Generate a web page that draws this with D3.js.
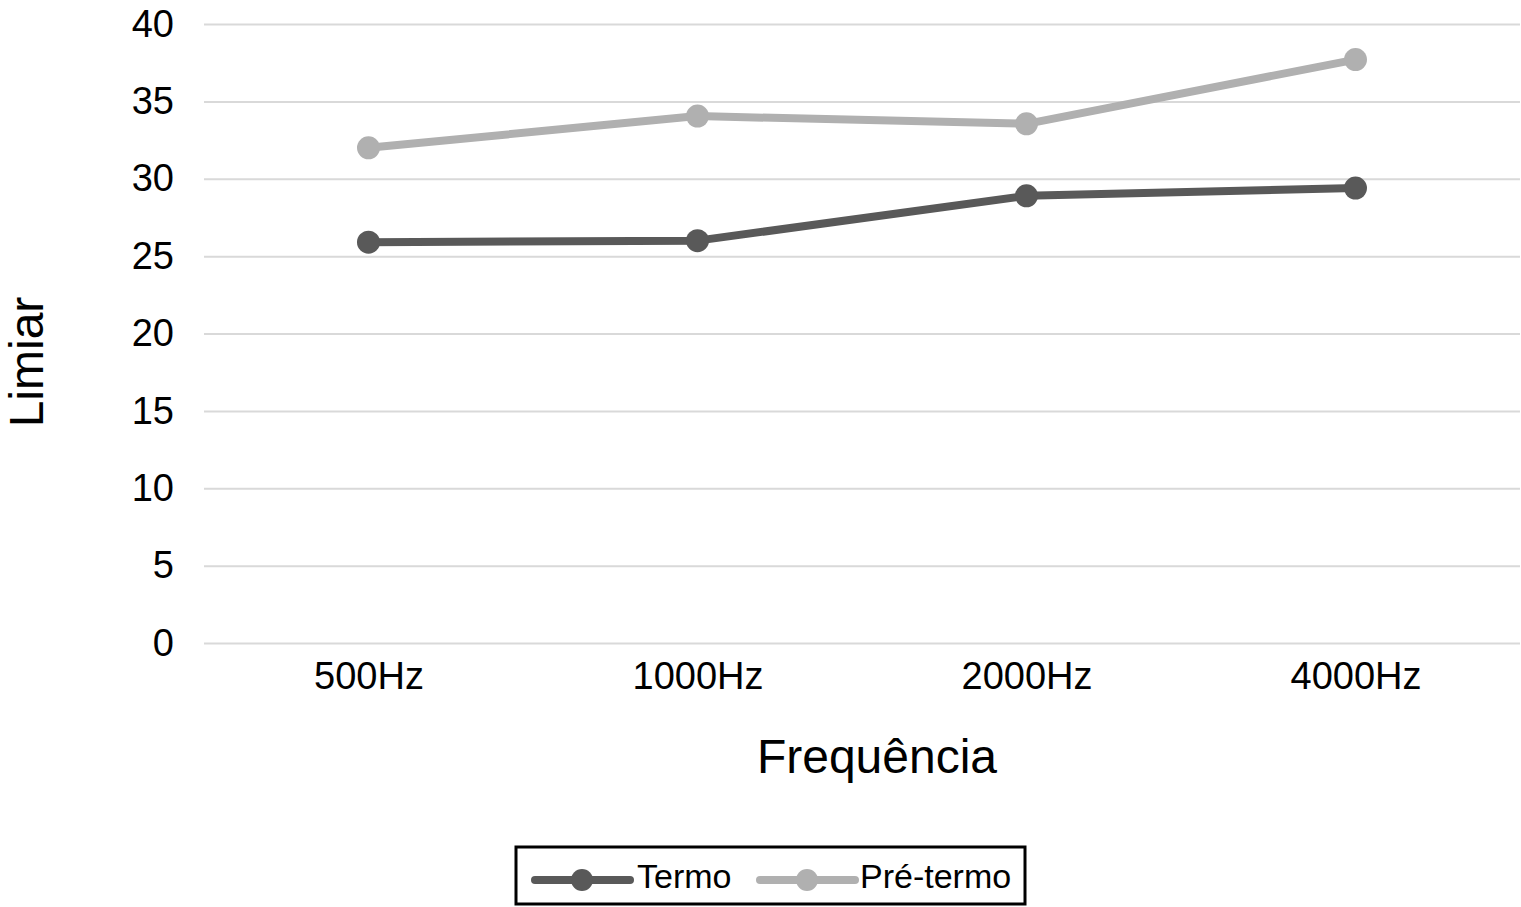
<!DOCTYPE html>
<html>
<head>
<meta charset="utf-8">
<script src="https://cdn.jsdelivr.net/npm/d3@7"></script>
<style>
  html, body { margin: 0; padding: 0; background: #fff; }
  svg { display: block; font-family: "Liberation Sans", Arial, Helvetica, sans-serif; }
</style>
</head>
<body>
<svg id="chart" width="1521" height="907"></svg>
<script>
// ---- data ----
const categories = ["500Hz", "1000Hz", "2000Hz", "4000Hz"];
const termo = [25.9, 26.0, 28.9, 29.4];
const preTermo = [32.0, 34.05, 33.55, 37.7];
const seriesNames = ["Termo", "Pré-termo"];
const yTicks = [0, 5, 10, 15, 20, 25, 30, 35, 40];
const xTitle = "Frequência";
const yTitle = "Limiar";

// ---- layout ----
const svg = d3.select("#chart");
const plotLeft = 204, plotRight = 1520, plotTop = 24, plotBottom = 643;
const colors = ["#595959", "#b0b0b0"];

const x = d3.scalePoint().domain(categories).range([plotLeft, plotRight]).padding(0.5);
const y = d3.scaleLinear().domain([0, 40]).range([plotBottom, plotTop]);

// y axis with gridlines
const yAxis = svg.append("g")
  .attr("transform", `translate(${plotLeft},0)`)
  .call(d3.axisLeft(y).tickValues(yTicks).tickSize(-(plotRight - plotLeft)).tickPadding(30));
yAxis.select(".domain").remove();
yAxis.selectAll(".tick line").attr("stroke", "#d9d9d9").attr("stroke-width", 2);
yAxis.selectAll(".tick text")
  .attr("fill", "#000").attr("font-size", 38)
  .attr("font-family", "Liberation Sans, Arial, sans-serif");

// x axis labels
const xAxis = svg.append("g")
  .attr("transform", `translate(0,${plotBottom})`)
  .call(d3.axisBottom(x).tickSize(0).tickPadding(19));
xAxis.select(".domain").remove();
xAxis.selectAll(".tick text")
  .attr("fill", "#000").attr("font-size", 38)
  .attr("font-family", "Liberation Sans, Arial, sans-serif");

// axis titles
svg.append("text")
  .attr("x", 877).attr("y", 773)
  .attr("text-anchor", "middle")
  .attr("font-size", 48)
  .attr("fill", "#000")
  .text(xTitle);

svg.append("text")
  .attr("transform", "translate(43,362) rotate(-90)")
  .attr("text-anchor", "middle")
  .attr("font-size", 48)
  .attr("fill", "#000")
  .text(yTitle);

// series
const series = [termo, preTermo].map((vals, i) => ({
  name: seriesNames[i],
  color: colors[i],
  points: categories.map((c, j) => ({ c, v: vals[j] }))
}));

const line = d3.line().x(d => x(d.c)).y(d => y(d.v));

series.slice().reverse().forEach(s => {
  svg.append("path")
    .datum(s.points)
    .attr("d", line)
    .attr("fill", "none")
    .attr("stroke", s.color)
    .attr("stroke-width", 8)
    .attr("stroke-linejoin", "round");
  svg.append("g").selectAll("circle")
    .data(s.points)
    .join("circle")
    .attr("cx", d => x(d.c))
    .attr("cy", d => y(d.v))
    .attr("r", 11.5)
    .attr("fill", s.color);
});

// legend
const legend = svg.append("g");
legend.append("rect")
  .attr("x", 516).attr("y", 847)
  .attr("width", 509).attr("height", 57)
  .attr("fill", "#fff")
  .attr("stroke", "#000")
  .attr("stroke-width", 3);

const legendX = [535, 760];
const legendTextX = [637, 860];
series.forEach((s, i) => {
  const g = legend.append("g");
  g.append("line")
    .attr("x1", legendX[i]).attr("x2", legendX[i] + 95)
    .attr("y1", 880).attr("y2", 880)
    .attr("stroke", s.color)
    .attr("stroke-width", 8)
    .attr("stroke-linecap", "round");
  g.append("circle")
    .attr("cx", legendX[i] + 47).attr("cy", 880)
    .attr("r", 11)
    .attr("fill", s.color);
  g.append("text")
    .attr("x", legendTextX[i]).attr("y", 888)
    .attr("font-size", 34)
    .attr("fill", "#000")
    .text(s.name);
});
</script>
</body>
</html>
